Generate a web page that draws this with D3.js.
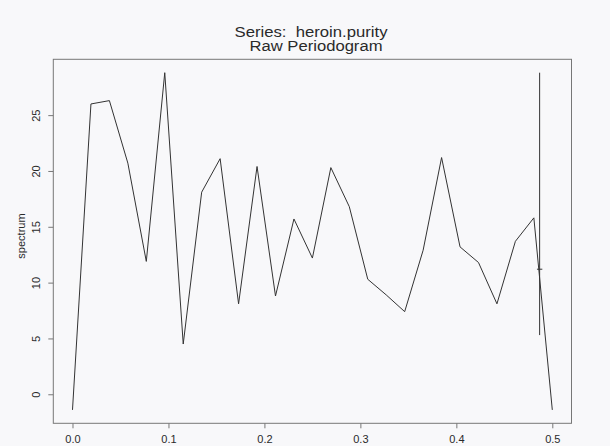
<!DOCTYPE html>
<html>
<head>
<meta charset="utf-8">
<script src="https://cdn.jsdelivr.net/npm/d3@7"></script>
<style>
  html, body { margin: 0; padding: 0; background: #f8f8fa; }
  svg { display: block; }
  text { font-family: "Liberation Sans", Arial, Helvetica, sans-serif; fill: #2a2a2a; }
</style>
</head>
<body>
<svg id="chart" width="610" height="446"></svg>
<script>
// Raw periodogram of heroin.purity (dB), frequencies k/52
const frequencies = d3.range(0, 27).map(k => k / 52);
const spectrum = [
  -1.4, 26.0, 26.3, 20.7, 11.9, 28.8, 4.5, 18.1, 21.1, 8.1,
  20.4, 8.8, 15.7, 12.2, 20.3, 16.8, 10.3, 8.9, 7.4, 12.9,
  21.2, 13.2, 11.8, 8.1, 13.7, 15.8, -1.4
];

// Confidence-interval bar and bandwidth crossbar
const ciFreq = 0.4868;
const ciBounds = [5.3, 28.8];
const ciCentre = 11.2;
const bandwidth = 0.0056;

const xTicks = [0, 0.1, 0.2, 0.3, 0.4, 0.5];
const yTicks = [0, 5, 10, 15, 20, 25];
const titleLines = ["Series:  heroin.purity", "Raw Periodogram"];
const yLabel = "spectrum";

const svg = d3.select("#chart");
const plot = { left: 53.3, right: 571.5, top: 59.3, bottom: 423.3 };

const x = d3.scaleLinear().domain([-0.02, 0.52]).range([plot.left, plot.right]);
const y = d3.scaleLinear().domain([-2.6, 30.0]).range([plot.bottom, plot.top]);

// Axes (outward ticks, labels rotated on y as in base graphics)
const xAxis = svg.append("g")
  .attr("transform", `translate(0,${plot.bottom})`)
  .call(d3.axisBottom(x).tickValues(xTicks).tickFormat(d3.format(".1f")).tickSize(5).tickSizeOuter(0).tickPadding(7));
xAxis.select(".domain").remove();
xAxis.selectAll("line").attr("stroke", "#777");
xAxis.selectAll("text").attr("font-size", 11).attr("fill", "#2a2a2a")
  .attr("font-family", "Liberation Sans, Arial, sans-serif");

const yAxis = svg.append("g")
  .attr("transform", `translate(${plot.left},0)`)
  .call(d3.axisLeft(y).tickValues(yTicks).tickFormat(d3.format("d")).tickSize(5).tickSizeOuter(0));
yAxis.select(".domain").remove();
yAxis.selectAll("line").attr("stroke", "#777");
yAxis.selectAll("text")
  .attr("font-size", 11).attr("fill", "#2a2a2a")
  .attr("font-family", "Liberation Sans, Arial, sans-serif")
  .attr("x", null).attr("dy", null)
  .attr("text-anchor", "middle")
  .attr("transform", "translate(-13.5,0) rotate(-90)");

// Plot frame
svg.append("rect")
  .attr("x", plot.left).attr("y", plot.top)
  .attr("width", plot.right - plot.left).attr("height", plot.bottom - plot.top)
  .attr("fill", "none").attr("stroke", "#777").attr("stroke-width", 1);

// Periodogram line
const line = d3.line().x((d, i) => x(frequencies[i])).y(d => y(d));
svg.append("path")
  .datum(spectrum)
  .attr("d", line)
  .attr("fill", "none")
  .attr("stroke", "#333")
  .attr("stroke-width", 1);

// CI bar with bandwidth crossbar
svg.append("line")
  .attr("x1", x(ciFreq)).attr("x2", x(ciFreq))
  .attr("y1", y(ciBounds[0])).attr("y2", y(ciBounds[1]))
  .attr("stroke", "#333").attr("stroke-width", 1);
svg.append("line")
  .attr("x1", x(ciFreq - bandwidth / 2)).attr("x2", x(ciFreq + bandwidth / 2))
  .attr("y1", y(ciCentre)).attr("y2", y(ciCentre))
  .attr("stroke", "#333").attr("stroke-width", 1);

// Title
svg.append("text")
  .attr("x", 311).attr("y", 36.5)
  .attr("text-anchor", "middle")
  .attr("font-size", 14)
  .attr("textLength", 153).attr("lengthAdjust", "spacingAndGlyphs")
  .style("white-space", "pre")
  .text(titleLines[0]);
svg.append("text")
  .attr("x", 316).attr("y", 51)
  .attr("text-anchor", "middle")
  .attr("font-size", 14)
  .attr("textLength", 133).attr("lengthAdjust", "spacingAndGlyphs")
  .text(titleLines[1]);

// Y axis title
svg.append("text")
  .attr("transform", `translate(25,236) rotate(-90)`)
  .attr("text-anchor", "middle")
  .attr("font-size", 11)
  .text(yLabel);
</script>
</body>
</html>
